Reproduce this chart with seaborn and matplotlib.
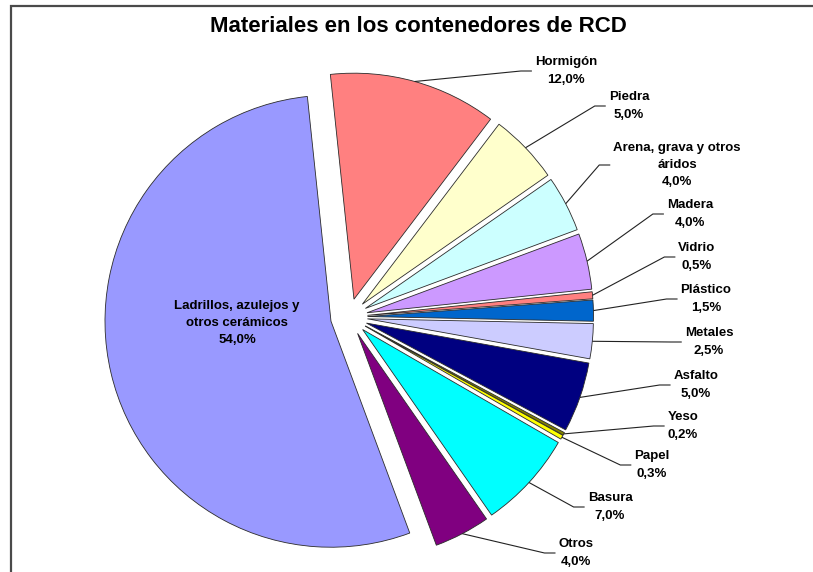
import matplotlib
matplotlib.use("Agg")
import numpy as np
import matplotlib.pyplot as plt
import matplotlib.patches as mpatches
import seaborn as sns

# Composition of construction & demolition waste containers (%)
categories = [
    "Hormigón", "Piedra", "Arena, grava y otros\náridos", "Madera", "Vidrio",
    "Plástico", "Metales", "Asfalto", "Yeso", "Papel", "Basura", "Otros",
    "Ladrillos, azulejos y\notros cerámicos",
]
percentages = [12.0, 5.0, 4.0, 4.0, 0.5, 1.5, 2.5, 5.0, 0.2, 0.3, 7.0, 4.0, 54.0]
slice_colors = [
    "#FF8080", "#FFFFCC", "#CCFFFF", "#CC99FF", "#FF8080", "#0066CC", "#CCCCFF",
    "#000080", "#808000", "#FFFF00", "#00FFFF", "#800080", "#9999FF",
]
title = "Materiales en los contenedores de RCD"

W, H = 813, 572
sns.set_theme(style="white")
plt.rcParams["font.family"] = ["Liberation Sans", "DejaVu Sans"]

fig = plt.figure(figsize=(W / 100, H / 100), dpi=100)
ax = fig.add_axes([0, 0, 1, 1])


def fy(y):
    """Top-down pixel row to axis y."""
    return H - y


# pie geometry in pixel units
cx, cy, radius, gap = 349, 317, 226, 18.5
wedges, _ = ax.pie(
    percentages,
    colors=sns.color_palette(slice_colors),
    startangle=96,
    counterclock=False,
    radius=radius,
    center=(cx, fy(cy)),
    explode=[gap] * len(percentages),
    wedgeprops=dict(edgecolor="#2b2b2b", linewidth=0.6),
)
ax.set_xlim(0, W)
ax.set_ylim(0, H)
ax.set_aspect("equal")
ax.axis("off")


def pct(v):
    return f"{v:.1f}".replace(".", ",") + "%"


# label block centres (x, y from top) for the outer labels, then the inner one
outer_label_xy = [
    (566, 71), (629, 106), (677, 165), (690, 214), (697, 257), (706, 299),
    (709, 342), (696, 385), (683, 426), (652, 465), (610, 507), (576, 553),
]
inner_label_xy = (237, 323)

renderer = fig.canvas.get_renderer()
text_kw = dict(ha="center", va="center", fontsize=9.5, fontweight="bold",
               linespacing=1.6, color="black")

for w, name, val, (lx, ly) in zip(wedges[:-1], categories[:-1], percentages[:-1], outer_label_xy):
    t = ax.text(lx, fy(ly), f"{name}\n{pct(val)}", **text_kw)
    left = t.get_window_extent(renderer).x0
    mid = np.deg2rad((w.theta1 + w.theta2) / 2)
    ax_x = w.center[0] + w.r * np.cos(mid)
    ax_y = w.center[1] + w.r * np.sin(mid)
    ax.plot([ax_x, left - 14, left - 3], [ax_y, fy(ly), fy(ly)],
            color="#222222", lw=0.8, solid_capstyle="butt")

ax.text(inner_label_xy[0], fy(inner_label_xy[1]),
        f"{categories[-1]}\n{pct(percentages[-1])}", **text_kw)

# chart frame
ax.add_patch(mpatches.Rectangle((11, fy(6) - 700), 900, 700, fill=False,
                                edgecolor="#4a4a4a", lw=1.6, clip_on=True))

fig.text(418 / W, 1 - 26 / H, title, ha="center", va="center",
         fontsize=16, fontweight="bold", color="black")

fig.savefig("out.png", dpi=100)
